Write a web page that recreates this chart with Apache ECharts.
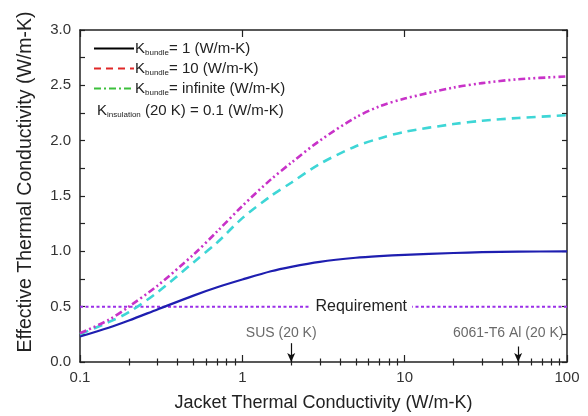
<!DOCTYPE html>
<html>
<head>
<meta charset="utf-8">
<script src="https://cdn.jsdelivr.net/npm/echarts@6/dist/echarts.min.js"></script>
<style>
  html, body { margin: 0; padding: 0; background: #fff; }
  #chart { width: 588px; height: 416px; }
</style>
</head>
<body>
<div id="chart"></div>
<script>
// jacket thermal conductivity (W/m-K)
const kJacket = [0.1, 0.15, 0.2, 0.3, 0.5, 0.7, 1, 1.5, 2, 3, 5, 7, 10, 20, 30, 50, 100]
// effective thermal conductivity for each K_bundle
const kBundle1 = [0.23, 0.31, 0.375, 0.475, 0.60, 0.675, 0.745, 0.82, 0.86, 0.905, 0.942, 0.957, 0.968, 0.985, 0.992, 0.997, 1.0]
const kBundle10 = [0.25, 0.36, 0.45, 0.63, 0.90, 1.08, 1.30, 1.50, 1.62, 1.79, 1.95, 2.02, 2.08, 2.15, 2.18, 2.205, 2.23]
const kBundleInf = [0.26, 0.38, 0.50, 0.69, 0.97, 1.18, 1.41, 1.65, 1.80, 2.00, 2.21, 2.31, 2.38, 2.48, 2.52, 2.555, 2.58]
const requirement = 0.5
const xTicks = [0.1, 1, 10, 100]
const xMinorTicks = [0.2, 0.3, 0.4, 0.5, 0.6, 0.7, 0.8, 0.9, 2, 3, 4, 5, 6, 7, 8, 9, 20, 30, 40, 50, 60, 70, 80, 90]
const sus = 2
const al6061 = 50

const FONT = 'Liberation Sans'
const pairs = (ys) => kJacket.map((x, i) => [x, ys[i]])

const chart = echarts.init(document.getElementById('chart'))

const legendNames = {
  K1: '= 1 (W/m-K)',
  K10: '= 10 (W/m-K)',
  Kinf: '= infinite (W/m-K)',
}

const logAxis = (extra) => Object.assign({
  type: 'log',
  logBase: 10,
  min: 0.1,
  max: 100,
  gridIndex: 0,
  splitLine: { show: false },
  axisLabel: { show: false },
  axisLine: { show: false },
}, extra)

const option = {
  animation: false,
  backgroundColor: '#fff',
  textStyle: { fontFamily: FONT },
  grid: { left: 80, right: 21, top: 30, bottom: 54, outerBoundsMode: 'none', containLabel: false },
  legend: {
    orient: 'vertical',
    left: 88,
    top: 36,
    itemWidth: 40,
    itemHeight: 12,
    itemGap: 4,
    selectedMode: false,
    data: [
      { name: 'K1', lineStyle: { color: '#000', type: 'solid', width: 2 }, itemStyle: { opacity: 0 } },
      { name: 'K10', lineStyle: { color: '#e02828', type: [7, 5], width: 2 }, itemStyle: { opacity: 0 } },
      { name: 'Kinf', lineStyle: { color: '#3cc03c', type: [7, 3, 2, 3], width: 2 }, itemStyle: { opacity: 0 } },
    ],
    formatter: (name) => '{k|K}{s|bundle}{t|' + legendNames[name] + '}',
    textStyle: {
      padding: [0, 0, 0, -4],
      rich: {
        k: { fontSize: 15, color: '#222', fontFamily: FONT },
        s: { fontSize: 8, color: '#222', fontFamily: FONT, padding: [9, 0, 0, 0] },
        t: { fontSize: 15, color: '#222', fontFamily: FONT },
      },
    },
  },
  graphic: [
    {
      type: 'text',
      left: 97,
      top: 103,
      style: {
        text: '{k|K}{s|insulation}{t| (20 K) = 0.1 (W/m-K)}',
        rich: {
          k: { fontSize: 15, fill: '#222', fontFamily: FONT },
          s: { fontSize: 8, fill: '#222', fontFamily: FONT, padding: [9, 0, 0, 0] },
          t: { fontSize: 15, fill: '#222', fontFamily: FONT },
        },
      },
    },
  ],
  xAxis: [
    logAxis({
      position: 'bottom',
      axisLine: { show: true, onZero: false, lineStyle: { color: '#222', width: 1.5 } },
      axisTick: { inside: true, length: 7, lineStyle: { color: '#222', width: 1.2 }, customValues: xTicks },
      axisLabel: { show: true, color: '#333', fontSize: 15, margin: 8, fontFamily: FONT, customValues: xTicks,
        formatter: (v) => String(v) },
      name: 'Jacket Thermal Conductivity (W/m-K)',
      nameLocation: 'middle',
      nameGap: 32,
      nameTextStyle: { fontSize: 18, color: '#222', fontFamily: FONT },
    }),
    logAxis({
      position: 'bottom',
      axisTick: { show: true, inside: true, length: 3.5, lineStyle: { color: '#222', width: 1.2 }, customValues: xMinorTicks },
    }),
    logAxis({
      position: 'top',
      axisLine: { show: true, onZero: false, lineStyle: { color: '#222', width: 1.5 } },
      axisTick: { inside: true, length: 7, lineStyle: { color: '#222', width: 1.2 }, customValues: xTicks },
    }),
    logAxis({
      position: 'top',
      axisTick: { show: true, inside: true, length: 3.5, lineStyle: { color: '#222', width: 1.2 }, customValues: xMinorTicks },
    }),
  ],
  yAxis: [
    {
      type: 'value',
      min: 0,
      max: 3,
      interval: 0.5,
      position: 'left',
      splitLine: { show: false },
      axisLine: { show: true, onZero: false, lineStyle: { color: '#222', width: 1.5 } },
      axisTick: { inside: true, length: 5, lineStyle: { color: '#222', width: 1.2 } },
      minorTick: { show: true, splitNumber: 2, length: 5, lineStyle: { color: '#222', width: 1.2 } },
      axisLabel: { color: '#333', fontSize: 15, margin: 9, fontFamily: FONT, padding: [3, 0, 0, 0], formatter: (v) => v.toFixed(1) },
      name: 'Effective Thermal Conductivity (W/m-K)',
      nameLocation: 'middle',
      nameGap: 44,
      nameTextStyle: { fontSize: 19.5, color: '#222', fontFamily: FONT, padding: [0, 0, 0, 28] },
    },
    {
      type: 'value',
      min: 0,
      max: 3,
      interval: 0.5,
      position: 'right',
      splitLine: { show: false },
      axisLine: { show: true, onZero: false, lineStyle: { color: '#222', width: 1.5 } },
      axisTick: { inside: true, length: 5, lineStyle: { color: '#222', width: 1.2 } },
      minorTick: { show: true, splitNumber: 2, length: 5, lineStyle: { color: '#222', width: 1.2 } },
      axisLabel: { show: false },
    },
  ],
  series: [
    {
      name: 'Requirement',
      type: 'line',
      data: [[0.1, requirement], [100, requirement]],
      symbol: 'none',
      silent: true,
      lineStyle: { color: '#9a2fe8', width: 2, type: [3, 2.5] },
      markPoint: {
        symbol: 'rect',
        symbolSize: [102, 18],
        itemStyle: { color: '#fff' },
        label: { show: true, position: 'inside', color: '#222', fontSize: 16, fontFamily: FONT, formatter: 'Requirement' },
        data: [{ coord: [5.4, requirement] }],
      },
      // material arrows
      markLine: {
        silent: true,
        symbol: ['none', 'arrow'],
        symbolSize: [6, 9],
        lineStyle: { color: '#111', width: 1.2, type: 'solid' },
        label: { show: false },
        data: [
          [{ coord: [sus, 0.17] }, { coord: [sus, 0] }],
          [{ coord: [al6061, 0.14] }, { coord: [al6061, 0] }],
        ],
      },
    },
    {
      name: 'Materials',
      type: 'scatter',
      data: [[sus, 0.262], [al6061, 0.262]],
      symbolSize: 0,
      silent: true,
      label: {
        show: true,
        position: 'inside',
        color: '#444',
        fontSize: 14,
        fontFamily: FONT,
        formatter: (p) => (p.dataIndex === 0 ? 'SUS (20 K)' : '6061-T6 Al (20 K)'),
        offset: [-10, 0],
      },
    },
    {
      name: 'K1',
      type: 'line',
      data: pairs(kBundle1),
      smooth: 0.3,
      symbol: 'none',
      lineStyle: { color: '#1e1eb0', width: 2.2, type: 'solid' },
      itemStyle: { color: '#1e1eb0' },
    },
    {
      name: 'K10',
      type: 'line',
      data: pairs(kBundle10),
      smooth: 0.3,
      symbol: 'none',
      lineStyle: { color: '#3ed6d6', width: 2.6, type: [9, 6] },
      itemStyle: { color: '#3ed6d6' },
    },
    {
      name: 'Kinf',
      type: 'line',
      data: pairs(kBundleInf),
      smooth: 0.3,
      symbol: 'none',
      lineStyle: { color: '#c832c8', width: 2.6, type: [7, 3, 2, 3, 2, 3] },
      itemStyle: { color: '#c832c8' },
    },
  ],
}

chart.setOption(option)
</script>
</body>
</html>
